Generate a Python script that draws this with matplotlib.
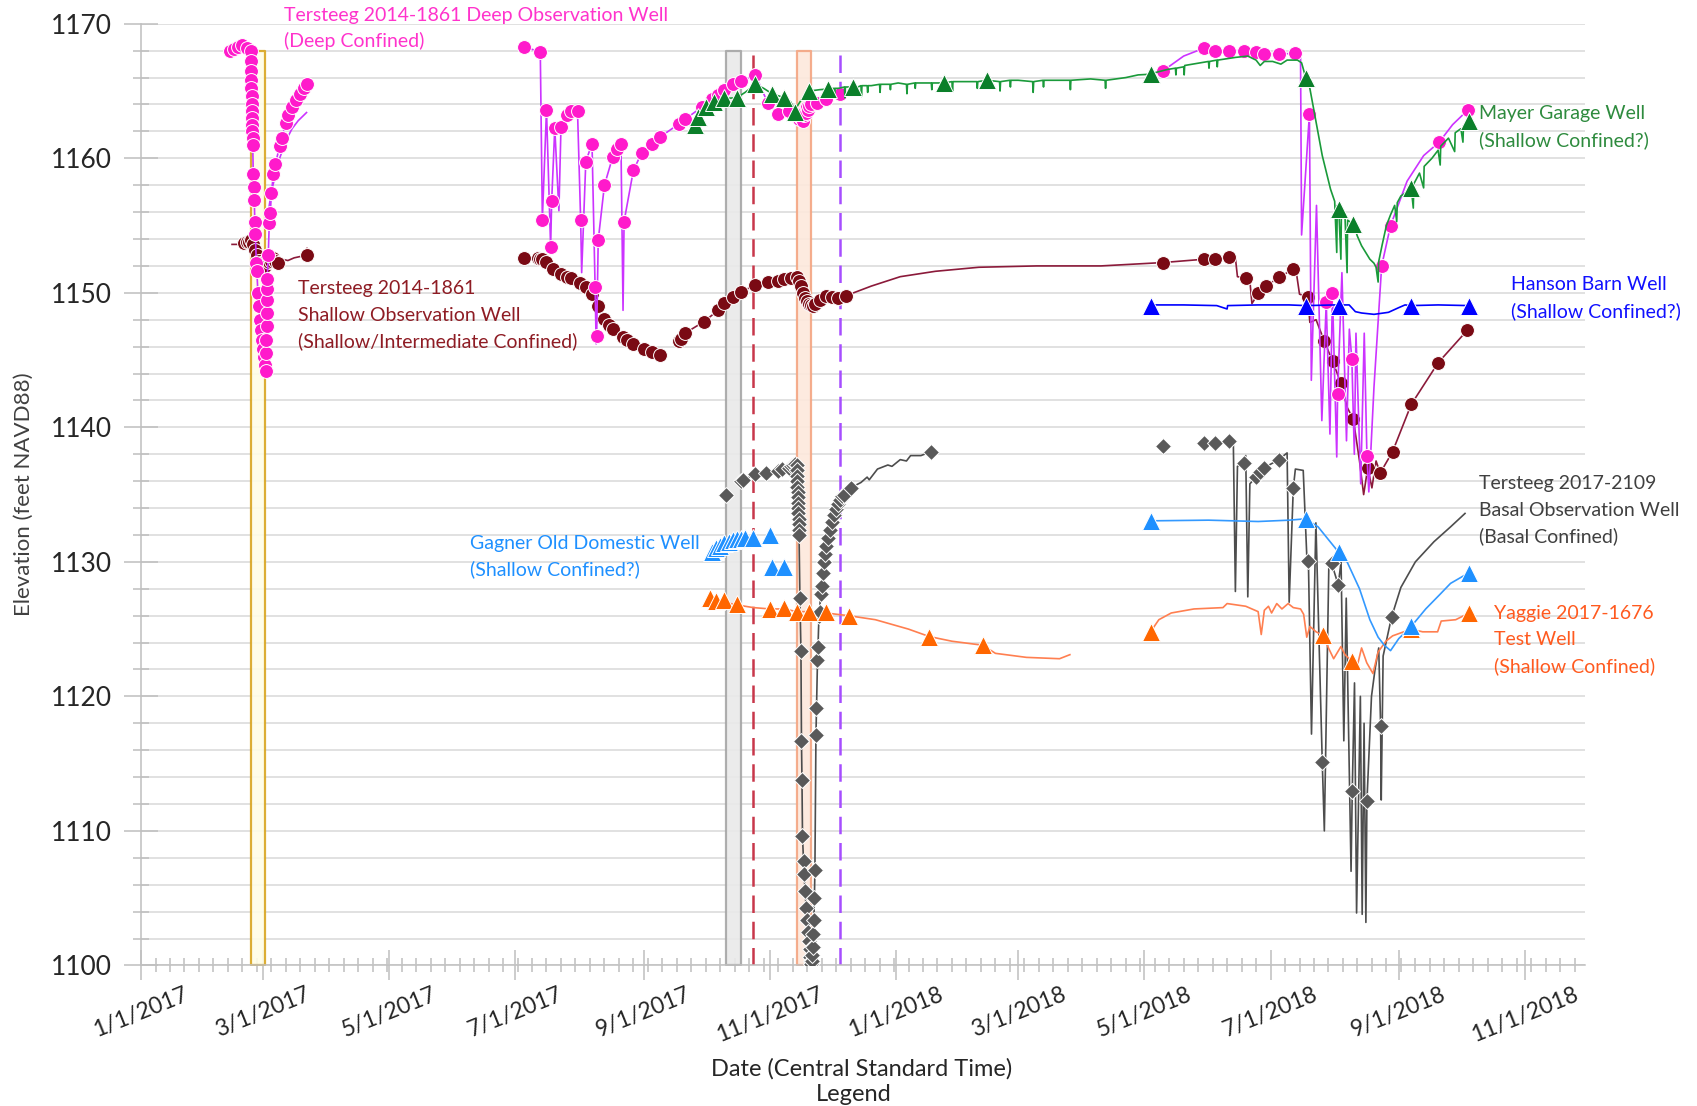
import numpy as np
import pandas as pd
import matplotlib
matplotlib.use('Agg')
import matplotlib.pyplot as plt
import matplotlib.dates as mdates
from matplotlib.ticker import MultipleLocator, FuncFormatter

plt.rcParams['font.family'] = ['Lato', 'DejaVu Sans']

# ---------------- data ----------------
GAP = None  # breaks a line between logging periods

# Tersteeg 2014-1861 Deep Observation Well
deep_test = [  # Feb-Mar 2017 pumping test, line + markers
    ('2017-02-13', 1168.0), ('2017-02-15', 1168.1), ('2017-02-17', 1168.3), ('2017-02-19', 1168.4),
    ('2017-02-21', 1168.2), ('2017-02-23 00:00', 1168.0), ('2017-02-23 02:00', 1167.2),
    ('2017-02-23 04:00', 1166.5), ('2017-02-23 06:00', 1165.8), ('2017-02-23 08:00', 1165.2),
    ('2017-02-23 10:00', 1164.6), ('2017-02-23 12:00', 1164.0), ('2017-02-23 14:00', 1163.5),
    ('2017-02-23 16:00', 1163.0), ('2017-02-23 18:00', 1162.5), ('2017-02-23 20:00', 1162.0),
    ('2017-02-23 22:00', 1161.5), ('2017-02-24 00:00', 1161.0), ('2017-02-24 06:00', 1158.8),
    ('2017-02-24 12:00', 1157.9), ('2017-02-24 18:00', 1156.9), ('2017-02-25 00:00', 1155.3),
    ('2017-02-25 06:00', 1154.4), ('2017-02-25 18:00', 1152.2), ('2017-02-26 00:00', 1151.6),
    ('2017-02-26 12:00', 1150.0), ('2017-02-27 00:00', 1149.0), ('2017-02-27 12:00', 1148.0),
    ('2017-02-28 00:00', 1147.2), ('2017-02-28 12:00', 1146.5), ('2017-03-01 00:00', 1145.8),
    ('2017-03-01 12:00', 1145.2), ('2017-03-02 00:00', 1144.6), ('2017-03-02 06:00', 1144.2),
    ('2017-03-02 12:00', 1145.5), ('2017-03-02 14:00', 1146.5), ('2017-03-02 16:00', 1147.5),
    ('2017-03-02 18:00', 1148.5), ('2017-03-02 20:00', 1149.5), ('2017-03-02 22:00', 1150.3),
    ('2017-03-03 00:00', 1151.0), ('2017-03-03 12:00', 1152.8), ('2017-03-04 00:00', 1155.2),
    ('2017-03-04 12:00', 1155.9), ('2017-03-05', 1157.4), ('2017-03-06', 1158.8), ('2017-03-07', 1159.6),
    ('2017-03-09', 1160.9), ('2017-03-10', 1161.5), ('2017-03-12', 1162.6), ('2017-03-13', 1163.2),
    ('2017-03-15', 1163.8), ('2017-03-17', 1164.3), ('2017-03-19', 1164.8), ('2017-03-21', 1165.2),
    ('2017-03-22', 1165.5),
]
deep_logger = [  # recovery trace without markers
    ('2017-03-03', 1155.5), ('2017-03-05', 1157.5), ('2017-03-07', 1158.8), ('2017-03-09', 1160.0),
    ('2017-03-12', 1161.3), ('2017-03-15', 1162.2), ('2017-03-18', 1162.8), ('2017-03-22', 1163.4),
]
deep_line = [
    ('2017-07-05', 1168.3), ('2017-07-13', 1167.9), ('2017-07-14', 1155.45), ('2017-07-16', 1163.6),
    ('2017-07-18', 1153.4), ('2017-07-18 12:00', 1156.8), ('2017-07-20', 1162.25), ('2017-07-22', 1156.1),
    ('2017-07-23', 1162.3), ('2017-07-26', 1163.2), ('2017-07-28', 1163.5), ('2017-07-31', 1163.5),
    ('2017-08-01 12:00', 1155.45), ('2017-08-02', 1151.5), ('2017-08-04', 1159.75), ('2017-08-07', 1161.1),
    ('2017-08-08 12:00', 1150.4), ('2017-08-09', 1146.2), ('2017-08-09 06:00', 1146.8), ('2017-08-10', 1153.9),
    ('2017-08-13', 1158.0), ('2017-08-17', 1160.1), ('2017-08-19', 1160.7), ('2017-08-21', 1161.05),
    ('2017-08-22', 1148.7), ('2017-08-22 12:00', 1155.3), ('2017-08-27', 1159.1), ('2017-08-31', 1160.4),
    ('2017-09-05', 1161.1), ('2017-09-09', 1161.6), ('2017-09-18', 1162.55), ('2017-09-21', 1162.9),
    ('2017-09-29', 1163.8), ('2017-10-04', 1164.4), ('2017-10-07', 1164.7), ('2017-10-10', 1165.1),
    ('2017-10-14', 1165.5), ('2017-10-18', 1165.75), ('2017-10-25', 1166.2), ('2017-10-31', 1164.1),
    ('2017-11-05', 1163.3), ('2017-11-10', 1163.5), ('2017-11-14', 1163.2), ('2017-11-14 12:00', 1163.0),
    ('2017-11-15', 1162.9), ('2017-11-15 12:00', 1163.1), ('2017-11-16', 1163.3), ('2017-11-16 12:00', 1163.0),
    ('2017-11-17', 1162.8), ('2017-11-17 12:00', 1163.2), ('2017-11-18', 1163.5), ('2017-11-18 12:00', 1163.4),
    ('2017-11-19', 1163.8), ('2017-11-19 12:00', 1163.6), ('2017-11-20', 1163.9), ('2017-11-21', 1164.0),
    ('2017-11-24', 1164.1), ('2017-11-28', 1164.4), ('2017-12-05', 1164.8),
    GAP,
    ('2018-05-10', 1166.5), ('2018-05-20', 1167.6), ('2018-05-30', 1168.2), ('2018-06-04', 1168.0),
    ('2018-06-11', 1168.0), ('2018-06-18', 1168.0), ('2018-06-24', 1167.9), ('2018-06-28', 1167.75),
    ('2018-07-05', 1167.75), ('2018-07-12 16:00', 1167.8), ('2018-07-15 12:00', 1167.5),
    ('2018-07-16 00:00', 1154.3), ('2018-07-19 19:00', 1163.3), ('2018-07-20 17:00', 1143.5),
    ('2018-07-23 05:00', 1156.5), ('2018-07-25 19:00', 1140.5), ('2018-07-27 22:00', 1149.3),
    ('2018-07-29 17:00', 1139.5), ('2018-07-30 22:00', 1150.0), ('2018-08-02 00:00', 1137.8),
    ('2018-08-02 10:00', 1142.5), ('2018-08-04 12:00', 1151.5), ('2018-08-06 17:00', 1139.0),
    ('2018-08-08 02:00', 1147.3), ('2018-08-09 07:00', 1145.1), ('2018-08-10 12:00', 1138.0),
    ('2018-08-11 07:00', 1147.0), ('2018-08-13 14:00', 1135.8), ('2018-08-15 07:00', 1147.0),
    ('2018-08-16 14:00', 1137.9), ('2018-08-17 12:00', 1135.2), ('2018-08-20 00:00', 1143.0),
    ('2018-08-23 17:00', 1152.0), ('2018-08-28 00:00', 1155.0), ('2018-09-05', 1158.3),
    ('2018-09-13', 1160.2), ('2018-09-20 12:00', 1161.2), ('2018-09-27', 1162.5), ('2018-10-04 10:00', 1163.6),
]
deep_marks = [
    ('2017-07-05', 1168.3), ('2017-07-13', 1167.9), ('2017-07-14', 1155.45), ('2017-07-16', 1163.6),
    ('2017-07-18', 1153.4), ('2017-07-18 12:00', 1156.8), ('2017-07-20', 1162.25), ('2017-07-23', 1162.3),
    ('2017-07-26', 1163.2), ('2017-07-28', 1163.5), ('2017-07-31', 1163.5), ('2017-08-01 12:00', 1155.45),
    ('2017-08-04', 1159.75), ('2017-08-07', 1161.1), ('2017-08-08 12:00', 1150.4), ('2017-08-09 06:00', 1146.8),
    ('2017-08-10', 1153.9), ('2017-08-13', 1158.0), ('2017-08-17', 1160.1), ('2017-08-19', 1160.7),
    ('2017-08-21', 1161.05), ('2017-08-22 12:00', 1155.3), ('2017-08-27', 1159.1), ('2017-08-31', 1160.4),
    ('2017-09-05', 1161.1), ('2017-09-09', 1161.6), ('2017-09-18', 1162.55), ('2017-09-21', 1162.9),
    ('2017-09-29', 1163.8), ('2017-10-04', 1164.4), ('2017-10-07', 1164.7), ('2017-10-10', 1165.1),
    ('2017-10-14', 1165.5), ('2017-10-18', 1165.75), ('2017-10-25', 1166.2), ('2017-10-31', 1164.1),
    ('2017-11-05', 1163.3), ('2017-11-10', 1163.5), ('2017-11-14', 1163.2), ('2017-11-14 12:00', 1163.0),
    ('2017-11-15', 1162.9), ('2017-11-15 12:00', 1163.1), ('2017-11-16', 1163.3), ('2017-11-16 12:00', 1163.0),
    ('2017-11-17', 1162.8), ('2017-11-17 12:00', 1163.2), ('2017-11-18', 1163.5), ('2017-11-18 12:00', 1163.4),
    ('2017-11-19', 1163.8), ('2017-11-19 12:00', 1163.6), ('2017-11-20', 1163.9), ('2017-11-21', 1164.0),
    ('2017-11-24', 1164.1), ('2017-11-28', 1164.4), ('2017-12-05', 1164.8),
    ('2018-05-10', 1166.5), ('2018-05-30', 1168.2), ('2018-06-04', 1168.0), ('2018-06-11', 1168.0),
    ('2018-06-18', 1168.0), ('2018-06-24', 1167.9), ('2018-06-28', 1167.75), ('2018-07-05', 1167.75),
    ('2018-07-12 16:00', 1167.8), ('2018-07-19 19:00', 1163.3), ('2018-07-27 22:00', 1149.3),
    ('2018-07-30 22:00', 1150.0), ('2018-08-02 10:00', 1142.5), ('2018-08-09 07:00', 1145.1),
    ('2018-08-16 14:00', 1137.9), ('2018-08-23 17:00', 1152.0), ('2018-08-28 00:00', 1155.0),
    ('2018-09-20 12:00', 1161.2), ('2018-10-04 10:00', 1163.6),
]

# Tersteeg 2014-1861 Shallow Observation Well
shallow_line = [
    ('2017-02-14', 1153.6), ('2017-02-18', 1153.6), ('2017-02-22', 1153.8), ('2017-02-23 12:00', 1153.9),
    ('2017-02-24', 1153.6), ('2017-02-25', 1153.2), ('2017-02-26', 1152.8), ('2017-02-27', 1152.4),
    ('2017-02-28', 1152.2), ('2017-03-01', 1152.1), ('2017-03-02', 1152.0), ('2017-03-03', 1152.5),
    ('2017-03-04', 1152.3), ('2017-03-06', 1152.6), ('2017-03-08', 1152.2), ('2017-03-10', 1152.5),
    ('2017-03-13', 1152.4), ('2017-03-16', 1152.6), ('2017-03-19', 1152.7), ('2017-03-22', 1152.8),
    ('2017-03-22 06:00', 1153.3),
    GAP,
    ('2017-07-05', 1152.6), ('2017-07-12', 1152.6), ('2017-07-13', 1152.5), ('2017-07-14', 1152.5),
    ('2017-07-16', 1152.3), ('2017-07-19', 1151.75), ('2017-07-23', 1151.4), ('2017-07-26', 1151.2),
    ('2017-07-28', 1151.1), ('2017-08-01', 1150.7), ('2017-08-04', 1150.4), ('2017-08-07', 1149.9),
    ('2017-08-10', 1149.0), ('2017-08-13', 1148.05), ('2017-08-15', 1147.6), ('2017-08-17', 1147.3),
    ('2017-08-22', 1146.7), ('2017-08-24', 1146.5), ('2017-08-27', 1146.2), ('2017-09-01', 1145.8),
    ('2017-09-05', 1145.6), ('2017-09-09', 1145.4),
    GAP,
    ('2017-09-18', 1146.4), ('2017-09-19', 1146.55), ('2017-09-21', 1147.0), ('2017-09-30', 1147.85),
    ('2017-10-07', 1148.7), ('2017-10-10', 1149.25), ('2017-10-14', 1149.7), ('2017-10-18', 1150.05),
    ('2017-10-25', 1150.6), ('2017-10-31', 1150.8), ('2017-11-05', 1150.9), ('2017-11-08', 1151.0),
    ('2017-11-11', 1151.1), ('2017-11-14', 1151.2), ('2017-11-15', 1150.9), ('2017-11-16', 1150.5),
    ('2017-11-17', 1150.0), ('2017-11-18', 1149.6), ('2017-11-19', 1149.4), ('2017-11-20', 1149.2),
    ('2017-11-21', 1149.1), ('2017-11-22', 1149.0), ('2017-11-23', 1149.2), ('2017-11-25', 1149.5),
    ('2017-11-28', 1149.8), ('2017-12-01', 1149.7), ('2017-12-04', 1149.6), ('2017-12-08', 1149.8),
    ('2017-12-20', 1150.5), ('2018-01-03', 1151.2), ('2018-01-20', 1151.6), ('2018-02-10', 1151.9),
    ('2018-03-10', 1152.0), ('2018-04-10', 1152.0), ('2018-05-10', 1152.25), ('2018-05-30', 1152.5),
    ('2018-06-04', 1152.5), ('2018-06-11', 1152.7), ('2018-06-14', 1152.6), ('2018-06-15', 1151.2),
    ('2018-06-19', 1151.1), ('2018-06-21', 1150.9), ('2018-06-22', 1149.2), ('2018-06-25', 1149.95),
    ('2018-06-29', 1150.5), ('2018-07-05', 1151.15), ('2018-07-12', 1151.75), ('2018-07-13', 1152.0),
    ('2018-07-15', 1149.9), ('2018-07-19', 1149.7), ('2018-07-20', 1147.8), ('2018-07-23', 1148.0),
    ('2018-07-27', 1146.4), ('2018-07-31', 1144.9), ('2018-08-04', 1143.3), ('2018-08-07', 1141.5),
    ('2018-08-10', 1140.6), ('2018-08-13', 1137.5), ('2018-08-15', 1135.0), ('2018-08-17', 1137.0),
    ('2018-08-19', 1135.5), ('2018-08-21', 1137.5), ('2018-08-23', 1136.6), ('2018-08-29', 1138.2),
    ('2018-09-07', 1141.7), ('2018-09-20', 1144.8), ('2018-10-04', 1147.2),
]
shallow_marks = [
    ('2017-02-20', 1153.7), ('2017-02-21', 1153.8), ('2017-02-22', 1153.8), ('2017-02-23', 1153.9),
    ('2017-02-24', 1153.6), ('2017-02-25', 1153.2), ('2017-02-26', 1152.8), ('2017-02-27', 1152.4),
    ('2017-02-28', 1152.2), ('2017-03-01', 1152.1), ('2017-03-02', 1152.0), ('2017-03-03', 1152.5),
    ('2017-03-04', 1152.3), ('2017-03-05', 1152.4), ('2017-03-06', 1152.6), ('2017-03-07', 1152.4),
    ('2017-03-08', 1152.2), ('2017-03-22', 1152.8),
    ('2017-07-05', 1152.6), ('2017-07-12', 1152.6), ('2017-07-13', 1152.5), ('2017-07-14', 1152.5),
    ('2017-07-16', 1152.3), ('2017-07-19', 1151.75), ('2017-07-23', 1151.4), ('2017-07-26', 1151.2),
    ('2017-07-28', 1151.1), ('2017-08-01', 1150.7), ('2017-08-04', 1150.4), ('2017-08-07', 1149.9),
    ('2017-08-10', 1149.0), ('2017-08-13', 1148.05), ('2017-08-15', 1147.6), ('2017-08-17', 1147.3),
    ('2017-08-22', 1146.7), ('2017-08-24', 1146.5), ('2017-08-27', 1146.2), ('2017-09-01', 1145.8),
    ('2017-09-05', 1145.6), ('2017-09-09', 1145.4),
    ('2017-09-18', 1146.4), ('2017-09-19', 1146.55), ('2017-09-21', 1147.0), ('2017-09-30', 1147.85),
    ('2017-10-07', 1148.7), ('2017-10-10', 1149.25), ('2017-10-14', 1149.7), ('2017-10-18', 1150.05),
    ('2017-10-25', 1150.6), ('2017-10-31', 1150.8), ('2017-11-05', 1150.9), ('2017-11-08', 1151.0),
    ('2017-11-11', 1151.1), ('2017-11-14', 1151.2), ('2017-11-15', 1150.9), ('2017-11-16', 1150.5),
    ('2017-11-17', 1150.0), ('2017-11-18', 1149.6), ('2017-11-19', 1149.4), ('2017-11-20', 1149.2),
    ('2017-11-21', 1149.1), ('2017-11-22', 1149.0), ('2017-11-23', 1149.2), ('2017-11-25', 1149.5),
    ('2017-11-28', 1149.8), ('2017-12-01', 1149.7), ('2017-12-04', 1149.6), ('2017-12-08', 1149.8),
    ('2018-05-10', 1152.25), ('2018-05-30', 1152.5), ('2018-06-04', 1152.5), ('2018-06-11', 1152.7),
    ('2018-06-19', 1151.1), ('2018-06-25', 1149.95), ('2018-06-29', 1150.5), ('2018-07-05', 1151.15),
    ('2018-07-12', 1151.75), ('2018-07-19', 1149.7), ('2018-07-27', 1146.4), ('2018-07-31', 1144.9),
    ('2018-08-04', 1143.3), ('2018-08-10', 1140.6), ('2018-08-17', 1137.0), ('2018-08-23', 1136.6),
    ('2018-08-29', 1138.2), ('2018-09-07', 1141.7), ('2018-09-20', 1144.8), ('2018-10-04', 1147.2),
]

# Mayer Garage Well
mayer_line = [
    ('2017-09-26', 1162.6), ('2017-09-29', 1163.2), ('2017-10-03', 1163.9), ('2017-10-07', 1164.3),
    ('2017-10-10', 1164.45), ('2017-10-16', 1164.5), ('2017-10-20', 1164.9), ('2017-10-25', 1165.5),
    ('2017-10-29', 1165.2), ('2017-11-02', 1164.8), ('2017-11-08', 1164.5), ('2017-11-11', 1164.2),
    ('2017-11-13', 1163.6), ('2017-11-16', 1164.3), ('2017-11-20', 1165.0), ('2017-11-25', 1165.1),
    ('2017-11-29', 1165.15), ('2017-12-02', 1165.2), ('2017-12-02 06:00', 1164.7), ('2017-12-02 12:00', 1165.2),
    ('2017-12-04', 1165.2), ('2017-12-07', 1165.3), ('2017-12-07 06:00', 1164.5),
    ('2017-12-07 12:00', 1165.3), ('2017-12-11', 1165.3), ('2017-12-13', 1165.3), ('2017-12-13 06:00', 1165.0),
    ('2017-12-13 12:00', 1165.3), ('2017-12-15', 1165.4), ('2017-12-15 06:00', 1164.6),
    ('2017-12-15 12:00', 1165.4), ('2017-12-18', 1165.4), ('2017-12-18 06:00', 1164.9), ('2017-12-18 12:00', 1165.4),
    ('2017-12-20', 1165.4), ('2017-12-24', 1165.5), ('2017-12-24 06:00', 1164.9),
    ('2017-12-24 12:00', 1165.5), ('2017-12-29', 1165.5), ('2017-12-29 06:00', 1165.1), ('2017-12-29 12:00', 1165.5),
    ('2018-01-02', 1165.6), ('2018-01-06', 1165.5), ('2018-01-06 06:00', 1164.8),
    ('2018-01-06 12:00', 1165.5), ('2018-01-10', 1165.6), ('2018-01-10 06:00', 1165.2), ('2018-01-10 12:00', 1165.6),
    ('2018-01-14', 1165.6), ('2018-01-18', 1165.6), ('2018-01-18 06:00', 1165.1), ('2018-01-18 12:00', 1165.6),
    ('2018-01-24', 1165.6), ('2018-01-28', 1165.7),
    ('2018-01-28 06:00', 1165.0), ('2018-01-28 12:00', 1165.7), ('2018-02-05', 1165.7), ('2018-02-09', 1165.7),
    ('2018-02-09 06:00', 1165.2), ('2018-02-09 12:00', 1165.7), ('2018-02-14', 1165.8),
    ('2018-02-20', 1165.7), ('2018-02-20 06:00', 1165.0), ('2018-02-20 12:00', 1165.7), ('2018-02-25', 1165.8),
    ('2018-02-25 06:00', 1165.3), ('2018-02-25 12:00', 1165.8), ('2018-03-01', 1165.8),
    ('2018-03-08', 1165.7), ('2018-03-08 06:00', 1164.9), ('2018-03-08 12:00', 1165.7), ('2018-03-13', 1165.8),
    ('2018-03-13 06:00', 1165.3), ('2018-03-13 12:00', 1165.8), ('2018-03-18', 1165.8),
    ('2018-03-26', 1165.8), ('2018-03-26 06:00', 1165.1), ('2018-03-26 12:00', 1165.8), ('2018-04-05', 1165.9),
    ('2018-04-12', 1165.8), ('2018-04-12 06:00', 1165.2), ('2018-04-12 12:00', 1165.8), ('2018-04-22', 1166.0),
    ('2018-04-28', 1166.2), ('2018-05-04', 1166.25), ('2018-05-04 06:00', 1165.6), ('2018-05-04 12:00', 1166.3),
    ('2018-05-12', 1166.6), ('2018-05-16', 1166.7), ('2018-05-16 06:00', 1166.2), ('2018-05-16 12:00', 1166.7),
    ('2018-05-20', 1166.8), ('2018-05-20 06:00', 1166.2), ('2018-05-20 12:00', 1166.9),
    ('2018-05-28', 1167.1), ('2018-06-01', 1167.2), ('2018-06-01 06:00', 1166.7), ('2018-06-01 12:00', 1167.2),
    ('2018-06-05', 1167.3), ('2018-06-05 06:00', 1166.8), ('2018-06-05 12:00', 1167.3),
    ('2018-06-14', 1167.5), ('2018-06-20', 1167.6), ('2018-06-24', 1167.3), ('2018-06-26', 1166.9),
    ('2018-06-28', 1167.2), ('2018-07-02', 1167.2), ('2018-07-06', 1167.0), ('2018-07-09', 1167.3),
    ('2018-07-14', 1167.3), ('2018-07-16', 1167.1), ('2018-07-18', 1166.0), ('2018-07-20', 1165.2),
    ('2018-07-23', 1162.7), ('2018-07-26', 1160.2), ('2018-07-30', 1157.7), ('2018-08-01', 1156.8),
    ('2018-08-02', 1153.0), ('2018-08-02 06:00', 1156.5), ('2018-08-03', 1156.2), ('2018-08-04', 1152.5),
    ('2018-08-04 06:00', 1156.0), ('2018-08-06', 1155.6), ('2018-08-07', 1151.5), ('2018-08-07 06:00', 1155.4),
    ('2018-08-10', 1155.1), ('2018-08-12', 1154.2), ('2018-08-14', 1153.5), ('2018-08-16', 1153.0),
    ('2018-08-18', 1152.5), ('2018-08-20', 1152.2), ('2018-08-21', 1151.9), ('2018-08-22', 1150.8),
    ('2018-08-22 06:00', 1152.3), ('2018-08-24', 1153.6), ('2018-08-26', 1155.0), ('2018-08-28', 1155.8),
    ('2018-08-30', 1156.5), ('2018-08-31', 1155.3), ('2018-08-31 06:00', 1156.7), ('2018-09-02', 1157.2),
    ('2018-09-05', 1157.5), ('2018-09-07', 1157.8), ('2018-09-08', 1156.3), ('2018-09-08 06:00', 1158.1),
    ('2018-09-11', 1158.9), ('2018-09-13', 1157.8), ('2018-09-13 06:00', 1159.4), ('2018-09-17', 1160.0),
    ('2018-09-20', 1160.6), ('2018-09-21', 1159.5), ('2018-09-21 06:00', 1160.9), ('2018-09-25', 1161.5),
    ('2018-09-28', 1160.5), ('2018-09-28 06:00', 1161.9), ('2018-10-01', 1162.2), ('2018-10-02', 1161.2),
    ('2018-10-02 06:00', 1162.4), ('2018-10-05', 1162.8),
]
mayer_marks = [
    ('2017-09-26', 1162.5), ('2017-09-27', 1163.1), ('2017-10-01', 1163.8), ('2017-10-05', 1164.2),
    ('2017-10-10', 1164.45), ('2017-10-16', 1164.5), ('2017-10-25', 1165.5), ('2017-11-02', 1164.8),
    ('2017-11-08', 1164.5), ('2017-11-13', 1163.45), ('2017-11-20', 1165.0), ('2017-11-29', 1165.15),
    ('2017-12-11', 1165.3), ('2018-01-24', 1165.6), ('2018-02-14', 1165.8), ('2018-05-04', 1166.25),
    ('2018-07-18', 1166.0), ('2018-08-03', 1156.2), ('2018-08-10', 1155.1), ('2018-09-07', 1157.8),
    ('2018-10-05', 1162.8),
]

# Hanson Barn Well
hanson_line = [
    ('2018-05-04', 1149.0), ('2018-05-06', 1149.1), ('2018-05-20', 1149.1), ('2018-06-05', 1149.05),
    ('2018-06-10', 1148.8), ('2018-06-10 06:00', 1149.05), ('2018-06-25', 1149.1), ('2018-07-10', 1149.1),
    ('2018-07-18', 1149.05), ('2018-08-01', 1149.1), ('2018-08-08', 1149.1), ('2018-08-11', 1148.6),
    ('2018-08-14', 1148.5), ('2018-08-20', 1148.4), ('2018-08-27', 1148.55), ('2018-09-01', 1148.9),
    ('2018-09-04', 1149.1), ('2018-09-07', 1149.05), ('2018-09-20', 1149.1), ('2018-10-05', 1149.05),
]
hanson_marks = [('2018-05-04', 1149.0), ('2018-07-18', 1149.0), ('2018-08-03', 1149.0),
                ('2018-09-07', 1149.0), ('2018-10-05', 1149.0)]

# Gagner Old Domestic Well
gagner_line = [
    ('2017-10-04', 1130.7), ('2017-10-06', 1131.0), ('2017-10-08', 1131.2), ('2017-10-10', 1131.4),
    ('2017-10-12', 1131.5), ('2017-10-14', 1131.6), ('2017-10-16', 1131.7), ('2017-10-18', 1131.7),
    ('2017-10-20', 1131.8), ('2017-10-24', 1131.8),
    GAP,
    ('2018-05-04', 1133.05), ('2018-06-01', 1133.1), ('2018-06-25', 1133.0), ('2018-07-10', 1133.1),
    ('2018-07-18', 1133.2), ('2018-07-24', 1132.6), ('2018-08-03', 1130.7), ('2018-08-07', 1130.0),
    ('2018-08-13', 1128.0), ('2018-08-18', 1125.7), ('2018-08-22', 1124.4), ('2018-08-25', 1123.8),
    ('2018-08-28', 1123.4), ('2018-09-01', 1124.3), ('2018-09-07', 1125.2), ('2018-09-14', 1126.5),
    ('2018-09-21', 1127.6), ('2018-09-26', 1128.4), ('2018-10-05', 1129.2),
]
gagner_marks = [
    ('2017-10-04', 1130.7), ('2017-10-06', 1131.0), ('2017-10-08', 1131.2), ('2017-10-10', 1131.4),
    ('2017-10-12', 1131.5), ('2017-10-14', 1131.6), ('2017-10-16', 1131.7), ('2017-10-18', 1131.7),
    ('2017-10-20', 1131.8), ('2017-10-24', 1131.8), ('2017-11-01', 1132.0), ('2017-11-02', 1129.6),
    ('2017-11-08', 1129.6),
    ('2018-05-04', 1133.05), ('2018-07-18', 1133.2), ('2018-08-03', 1130.7), ('2018-09-07', 1125.2),
    ('2018-10-05', 1129.2),
]

# Tersteeg 2017-2109 Basal Observation Well
basal_line = [
    ('2017-10-18', 1136.0), ('2017-10-19', 1136.1), ('2017-10-25', 1136.5), ('2017-10-30', 1136.6),
    ('2017-11-05', 1136.75), ('2017-11-07', 1136.9), ('2017-11-10', 1137.0), ('2017-11-11', 1137.1),
    ('2017-11-12', 1137.2), ('2017-11-13', 1137.3), ('2017-11-14 00:00', 1137.2), ('2017-11-14 02:00', 1136.8),
    ('2017-11-14 04:00', 1136.4), ('2017-11-14 06:00', 1136.0), ('2017-11-14 08:00', 1135.6),
    ('2017-11-14 10:00', 1135.2), ('2017-11-14 12:00', 1134.8), ('2017-11-14 14:00', 1134.4),
    ('2017-11-14 16:00', 1134.0), ('2017-11-14 18:00', 1133.6), ('2017-11-14 20:00', 1133.2),
    ('2017-11-14 22:00', 1132.8), ('2017-11-15 00:00', 1132.4), ('2017-11-15 02:00', 1132.0),
    ('2017-11-15 12:00', 1127.35), ('2017-11-16 00:00', 1123.4), ('2017-11-16 06:00', 1116.7),
    ('2017-11-16 12:00', 1113.8), ('2017-11-16 18:00', 1109.6), ('2017-11-17 06:00', 1107.8),
    ('2017-11-17 12:00', 1106.8), ('2017-11-18 00:00', 1105.5), ('2017-11-18 12:00', 1104.3),
    ('2017-11-19 00:00', 1103.4), ('2017-11-19 12:00', 1102.5), ('2017-11-20 00:00', 1101.8),
    ('2017-11-20 06:00', 1101.2), ('2017-11-20 12:00', 1100.6), ('2017-11-20 18:00', 1100.3),
    ('2017-11-21 00:00', 1100.1), ('2017-11-21 06:00', 1100.3), ('2017-11-21 12:00', 1100.8),
    ('2017-11-21 18:00', 1101.4), ('2017-11-22 00:00', 1102.3), ('2017-11-22 06:00', 1103.4),
    ('2017-11-22 12:00', 1105.0), ('2017-11-22 18:00', 1107.1), ('2017-11-23 00:00', 1112.0),
    ('2017-11-23 06:00', 1117.1), ('2017-11-23 12:00', 1119.1), ('2017-11-23 18:00', 1121.0),
    ('2017-11-24 00:00', 1122.7), ('2017-11-24 06:00', 1123.7), ('2017-11-24 12:00', 1125.0),
    ('2017-11-24 18:00', 1126.0), ('2017-11-25 00:00', 1126.3), ('2017-11-25 12:00', 1127.6),
    ('2017-11-26 00:00', 1128.2), ('2017-11-26 12:00', 1129.2), ('2017-11-27 00:00', 1130.0),
    ('2017-11-27 12:00', 1130.6), ('2017-11-28 00:00', 1131.2), ('2017-11-29', 1131.8),
    ('2017-11-30', 1132.4), ('2017-12-01', 1133.0), ('2017-12-02', 1133.5), ('2017-12-03', 1133.9),
    ('2017-12-04', 1134.3), ('2017-12-05', 1134.6), ('2017-12-06', 1134.9), ('2017-12-07', 1135.0),
    ('2017-12-10', 1135.5), ('2017-12-15', 1135.9), ('2017-12-18', 1136.3), ('2017-12-19', 1136.1),
    ('2017-12-23', 1136.9), ('2017-12-28', 1137.2), ('2017-12-30', 1137.1),
    ('2018-01-03', 1137.6), ('2018-01-06', 1137.5), ('2018-01-08', 1137.9), ('2018-01-13', 1137.9),
    ('2018-01-18', 1138.2),
    GAP,
    ('2018-06-11', 1138.95), ('2018-06-13', 1139.0), ('2018-06-14', 1127.8), ('2018-06-15', 1137.1),
    ('2018-06-18', 1137.35), ('2018-06-19', 1137.9), ('2018-06-20', 1127.4), ('2018-06-21', 1135.8),
    ('2018-06-24', 1136.3), ('2018-06-26', 1136.7), ('2018-06-28', 1137.0), ('2018-07-05', 1137.6),
    ('2018-07-09', 1138.1), ('2018-07-10', 1127.0), ('2018-07-12', 1135.5), ('2018-07-13', 1136.9),
    ('2018-07-16 19:00', 1136.8), ('2018-07-18 12:00', 1130.5), ('2018-07-19 07:00', 1130.1),
    ('2018-07-20 19:00', 1117.2), ('2018-07-22 22:00', 1132.9), ('2018-07-26 00:00', 1115.1),
    ('2018-07-27 00:00', 1110.0), ('2018-07-29 05:00', 1130.0), ('2018-07-30 12:00', 1129.9),
    ('2018-08-02 17:00', 1128.3), ('2018-08-04 02:00', 1130.0), ('2018-08-05 10:00', 1116.7),
    ('2018-08-06 14:00', 1127.3), ('2018-08-08 22:00', 1107.0), ('2018-08-09 12:00', 1113.0),
    ('2018-08-10 14:00', 1121.0), ('2018-08-11 14:00', 1103.9), ('2018-08-13 10:00', 1120.0),
    ('2018-08-14 07:00', 1103.8), ('2018-08-15 05:00', 1118.0), ('2018-08-16 02:00', 1103.2),
    ('2018-08-16 14:00', 1112.2), ('2018-08-18 19:00', 1120.0), ('2018-08-20 12:00', 1122.0),
    ('2018-08-22 07:00', 1123.6), ('2018-08-23 05:00', 1117.8), ('2018-08-23 12:00', 1112.3),
    ('2018-08-24 10:00', 1123.0), ('2018-08-28 12:00', 1125.9), ('2018-09-02', 1128.1),
    ('2018-09-09', 1130.0), ('2018-09-18', 1131.5), ('2018-09-26', 1132.6), ('2018-10-03', 1133.6),
]
basal_marks = [
    ('2017-10-11', 1135.0), ('2017-10-18', 1136.0), ('2017-10-19', 1136.1), ('2017-10-25', 1136.5),
    ('2017-10-30', 1136.6), ('2017-11-05', 1136.75), ('2017-11-07', 1136.9), ('2017-11-10', 1137.0),
    ('2017-11-11', 1137.1), ('2017-11-12', 1137.2), ('2017-11-13', 1137.3), ('2017-11-14 00:00', 1137.2),
    ('2017-11-14 02:00', 1136.8), ('2017-11-14 04:00', 1136.4), ('2017-11-14 06:00', 1136.0),
    ('2017-11-14 08:00', 1135.6), ('2017-11-14 10:00', 1135.2), ('2017-11-14 12:00', 1134.8),
    ('2017-11-14 14:00', 1134.4), ('2017-11-14 16:00', 1134.0), ('2017-11-14 18:00', 1133.6),
    ('2017-11-14 20:00', 1133.2), ('2017-11-14 22:00', 1132.8), ('2017-11-15 00:00', 1132.4),
    ('2017-11-15 02:00', 1132.0), ('2017-11-15 12:00', 1127.35), ('2017-11-16 00:00', 1123.4),
    ('2017-11-16 06:00', 1116.7), ('2017-11-16 12:00', 1113.8), ('2017-11-16 18:00', 1109.6),
    ('2017-11-17 06:00', 1107.8), ('2017-11-17 12:00', 1106.8), ('2017-11-18 00:00', 1105.5),
    ('2017-11-18 12:00', 1104.3), ('2017-11-19 00:00', 1103.4), ('2017-11-19 12:00', 1102.5),
    ('2017-11-20 00:00', 1101.8), ('2017-11-20 06:00', 1101.2), ('2017-11-20 12:00', 1100.6),
    ('2017-11-20 18:00', 1100.3), ('2017-11-21 00:00', 1100.1), ('2017-11-21 06:00', 1100.3),
    ('2017-11-21 12:00', 1100.8), ('2017-11-21 18:00', 1101.4), ('2017-11-22 00:00', 1102.3),
    ('2017-11-22 06:00', 1103.4), ('2017-11-22 12:00', 1105.0), ('2017-11-22 18:00', 1107.1),
    ('2017-11-23 06:00', 1117.1), ('2017-11-23 12:00', 1119.1), ('2017-11-24 00:00', 1122.7),
    ('2017-11-24 06:00', 1123.7), ('2017-11-24 18:00', 1126.0), ('2017-11-25 00:00', 1126.3),
    ('2017-11-25 12:00', 1127.6), ('2017-11-26 00:00', 1128.2), ('2017-11-26 12:00', 1129.2),
    ('2017-11-27 00:00', 1130.0), ('2017-11-27 12:00', 1130.6), ('2017-11-28 00:00', 1131.2),
    ('2017-11-29', 1131.8), ('2017-11-30', 1132.4), ('2017-12-01', 1133.0), ('2017-12-02', 1133.5),
    ('2017-12-03', 1133.9), ('2017-12-04', 1134.3), ('2017-12-05', 1134.6), ('2017-12-06', 1134.9),
    ('2017-12-07', 1135.0), ('2017-12-10', 1135.5), ('2018-01-18', 1138.2),
    ('2018-05-10', 1138.6), ('2018-05-30', 1138.8), ('2018-06-04', 1138.8), ('2018-06-11', 1138.95),
    ('2018-06-18', 1137.35), ('2018-06-24', 1136.3), ('2018-06-26', 1136.7), ('2018-06-28', 1137.0),
    ('2018-07-05', 1137.6), ('2018-07-12', 1135.5), ('2018-07-19 07:00', 1130.1),
    ('2018-07-26 00:00', 1115.1), ('2018-07-30 12:00', 1129.9), ('2018-08-02 17:00', 1128.3),
    ('2018-08-09 12:00', 1113.0), ('2018-08-16 14:00', 1112.2), ('2018-08-23 05:00', 1117.8),
    ('2018-08-28 12:00', 1125.9),
]

# Yaggie 2017-1676 Test Well
yaggie_line = [
    ('2017-10-03', 1127.3), ('2017-10-10', 1127.0), ('2017-10-16', 1126.8), ('2017-10-24', 1126.6),
    ('2017-11-01', 1126.5), ('2017-11-08', 1126.5), ('2017-11-14', 1126.3), ('2017-11-20', 1126.3),
    ('2017-11-28', 1126.2), ('2017-12-09', 1126.0), ('2017-12-22', 1125.7), ('2018-01-07', 1125.0),
    ('2018-01-17', 1124.45), ('2018-01-28', 1124.1), ('2018-02-12', 1123.8), ('2018-02-18', 1123.2),
    ('2018-03-05', 1122.9), ('2018-03-21', 1122.8), ('2018-03-26', 1123.1),
    GAP,
    ('2018-05-04', 1124.8), ('2018-05-08', 1125.7), ('2018-05-14', 1126.2), ('2018-05-25', 1126.5),
    ('2018-06-08', 1126.6), ('2018-06-10', 1126.9), ('2018-06-19', 1126.7), ('2018-06-25', 1126.3),
    ('2018-06-26 12:00', 1124.6), ('2018-06-28', 1126.4), ('2018-06-30', 1126.7), ('2018-07-01 12:00', 1126.2),
    ('2018-07-04', 1126.9), ('2018-07-06 12:00', 1126.5), ('2018-07-09 12:00', 1126.9), ('2018-07-12', 1126.6),
    ('2018-07-15 12:00', 1126.5), ('2018-07-17', 1126.1), ('2018-07-18 12:00', 1124.4), ('2018-07-20', 1125.2),
    ('2018-07-23', 1124.8), ('2018-07-26 05:00', 1124.55), ('2018-07-29', 1123.6), ('2018-07-31 12:00', 1122.8),
    ('2018-08-04', 1123.7), ('2018-08-06', 1123.1), ('2018-08-09 10:00', 1122.6), ('2018-08-11 12:00', 1122.0),
    ('2018-08-14', 1123.6), ('2018-08-16 12:00', 1122.5), ('2018-08-19 12:00', 1121.7), ('2018-08-22', 1123.3),
    ('2018-08-25 18:00', 1124.1), ('2018-08-29', 1124.5), ('2018-09-07', 1125.0), ('2018-09-12 12:00', 1124.8),
    ('2018-09-19 18:00', 1124.8), ('2018-09-21 12:00', 1125.6), ('2018-09-28 12:00', 1125.7),
    ('2018-10-05', 1126.2),
]
yaggie_marks = [
    ('2017-10-03', 1127.3), ('2017-10-06', 1127.1), ('2017-10-10', 1127.2), ('2017-10-16', 1126.9),
    ('2017-11-01', 1126.5), ('2017-11-08', 1126.6), ('2017-11-14', 1126.3), ('2017-11-20', 1126.3),
    ('2017-11-28', 1126.3), ('2017-12-09', 1126.0), ('2018-01-17', 1124.45), ('2018-02-12', 1123.8),
    ('2018-05-04', 1124.8), ('2018-07-26 05:00', 1124.55), ('2018-08-09 10:00', 1122.6),
    ('2018-09-07', 1125.0), ('2018-10-05', 1126.2),
]

# test periods (shaded) and events (dashed)
bands = [('2017-02-23', '2017-03-02', '#FFFDE6', '#D9A520'),
         ('2017-10-11', '2017-10-18', '#E9E9E9', '#A6A6A6'),
         ('2017-11-14', '2017-11-21', '#FDE8DC', '#F4A582')]
events = [('2017-10-24', '#C8374A'), ('2017-12-05', '#A64DFF')]

labels = [
    ('2017-03-11', 1170.65, ['Tersteeg 2014-1861 Deep Observation Well', '(Deep Confined)'], '#FF33CC'),
    ('2017-03-18', 1150.3, ['Tersteeg 2014-1861', 'Shallow Observation Well',
                            '(Shallow/Intermediate Confined)'], '#8E1C24'),
    ('2018-10-10', 1163.33, ['Mayer Garage Well', '(Shallow Confined?)'], '#2E8B3E'),
    ('2018-10-25', 1150.6, ['Hanson Barn Well', '(Shallow Confined?)'], '#1010FF'),
    ('2017-06-09', 1131.4, ['Gagner Old Domestic Well', '(Shallow Confined?)'], '#1E90FF'),
    ('2018-10-10', 1135.8, ['Tersteeg 2017-2109', 'Basal Observation Well', '(Basal Confined)'], '#404040'),
    ('2018-10-17', 1126.15, ['Yaggie 2017-1676', 'Test Well', '(Shallow Confined)'], '#FF5A1F'),
]


def split(pairs):
    t, v = [], []
    for p in pairs:
        if p is None:
            t.append(t[-1])
            v.append(np.nan)
        else:
            t.append(pd.Timestamp(p[0]))
            v.append(p[1])
    return t, v


# ---------------- figure ----------------
fig = plt.figure(figsize=(16.97, 11.06), dpi=100)
ax = fig.add_axes([0.0831, 0.1271, 0.8509, 0.8514])

for d0, d1, fc, ec in bands:
    ax.fill_between([pd.Timestamp(d0), pd.Timestamp(d1)], 1100, 1168, facecolor=fc,
                    edgecolor=ec, linewidth=1.6, alpha=0.9, zorder=1)
for d, c in events:
    ax.vlines(pd.Timestamp(d), 1100, 1168, colors=c, linewidth=1.8,
              linestyles=(0, (7, 3.5)), zorder=1.5)

mk = dict(linestyle='none', markeredgecolor='white', markeredgewidth=0.7)

t, v = split(basal_line)
ax.plot(t, v, color='#4D4D4D', lw=1.2, zorder=3)
t, v = split(basal_marks)
ax.plot(t, v, marker='D', ms=8, color='#595959', zorder=3.1, **mk)

t, v = split(yaggie_line)
ax.plot(t, v, color='#FF7F50', lw=1.2, zorder=3)
t, v = split(yaggie_marks)
ax.plot(t, v, marker='^', ms=12.5, color='#FF6600', zorder=3.1, **mk)

t, v = split(gagner_line)
ax.plot(t, v, color='#3399FF', lw=1.2, zorder=3)
t, v = split(gagner_marks)
ax.plot(t, v, marker='^', ms=12.5, color='#1E90FF', zorder=3.1, **mk)

t, v = split(shallow_line)
ax.plot(t, v, color='#8B1A3A', lw=1.2, zorder=3.2)
t, v = split(shallow_marks)
ax.plot(t, v, marker='o', ms=10, color='#7A0A14', zorder=3.3, **mk)

t, v = split(deep_logger)
ax.plot(t, v, color='#CC33FF', lw=1.2, zorder=3.4)
t, v = split(deep_line)
ax.plot(t, v, color='#CC33FF', lw=1.2, zorder=3.4)
t, v = split(deep_test)
ax.plot(t, v, color='#CC33FF', lw=1.2, zorder=3.4)
ax.plot(t, v, marker='o', ms=10, color='#FF1ACB', zorder=3.5, **mk)
t, v = split(deep_marks)
ax.plot(t, v, marker='o', ms=10, color='#FF1ACB', zorder=3.5, **mk)

t, v = split(hanson_line)
ax.plot(t, v, color='#0000FF', lw=1.2, zorder=3.6)
t, v = split(hanson_marks)
ax.plot(t, v, marker='^', ms=12.5, color='#0000FF', zorder=3.7, **mk)

t, v = split(mayer_line)
ax.plot(t, v, color='#1A9A3A', lw=1.2, zorder=3.8)
t, v = split(mayer_marks)
ax.plot(t, v, marker='^', ms=12.5, color='#0B7F2A', zorder=3.9, **mk)

for d, y, lines, c in labels:
    for i, s in enumerate(lines):
        ax.text(pd.Timestamp(d), y - 1.95 * i, s, color=c, fontsize=14,
                ha='left', va='center', clip_on=False, zorder=5)

# ---------------- axes ----------------
ax.set_xlim(pd.Timestamp('2017-01-01'), pd.Timestamp('2018-11-30'))
ax.set_ylim(1100, 1170)
ax.yaxis.set_major_locator(MultipleLocator(10))
ax.yaxis.set_minor_locator(MultipleLocator(2))
ax.grid(axis='y', which='both', color='#D9D9D9', linewidth=1.1, zorder=0)
ax.set_axisbelow(True)

ax.xaxis.set_major_locator(mdates.MonthLocator(bymonth=[1, 3, 5, 7, 9, 11]))
ax.xaxis.set_minor_locator(mdates.WeekdayLocator(byweekday=mdates.SU))
ax.xaxis.set_major_formatter(FuncFormatter(
    lambda x, pos: '{d.month}/{d.day}/{d.year}'.format(d=mdates.num2date(x))))

for s in ['top', 'right']:
    ax.spines[s].set_visible(False)
for s in ['left', 'bottom']:
    ax.spines[s].set_color('#BFBFBF')
    ax.spines[s].set_linewidth(1.1)

ax.tick_params(axis='y', which='major', direction='inout', length=24, width=1.1,
               color='#BFBFBF', labelsize=19, labelcolor='#262626', pad=9)
ax.tick_params(axis='y', which='minor', direction='inout', length=12, width=1.1, color='#BFBFBF')
ax.tick_params(axis='x', which='major', direction='inout', length=22, width=1.1,
               color='#BFBFBF', labelsize=16.5, labelcolor='#262626', pad=2)
ax.tick_params(axis='x', which='minor', direction='inout', length=10, width=1.1, color='#BFBFBF')
for lab in ax.get_xticklabels():
    lab.set_rotation(22)
    lab.set_ha('center')

fig.text(0.014, 0.553, 'Elevation (feet NAVD88)', rotation=90, ha='center', va='center',
         fontsize=16, color='#404040')
fig.text(0.508, 0.0332, 'Date (Central Standard Time)', ha='center', va='center',
         fontsize=17, color='#262626')
fig.text(0.503, 0.0108, 'Legend', ha='center', va='center', fontsize=17, color='#262626')

fig.savefig('out.png', dpi=100)
